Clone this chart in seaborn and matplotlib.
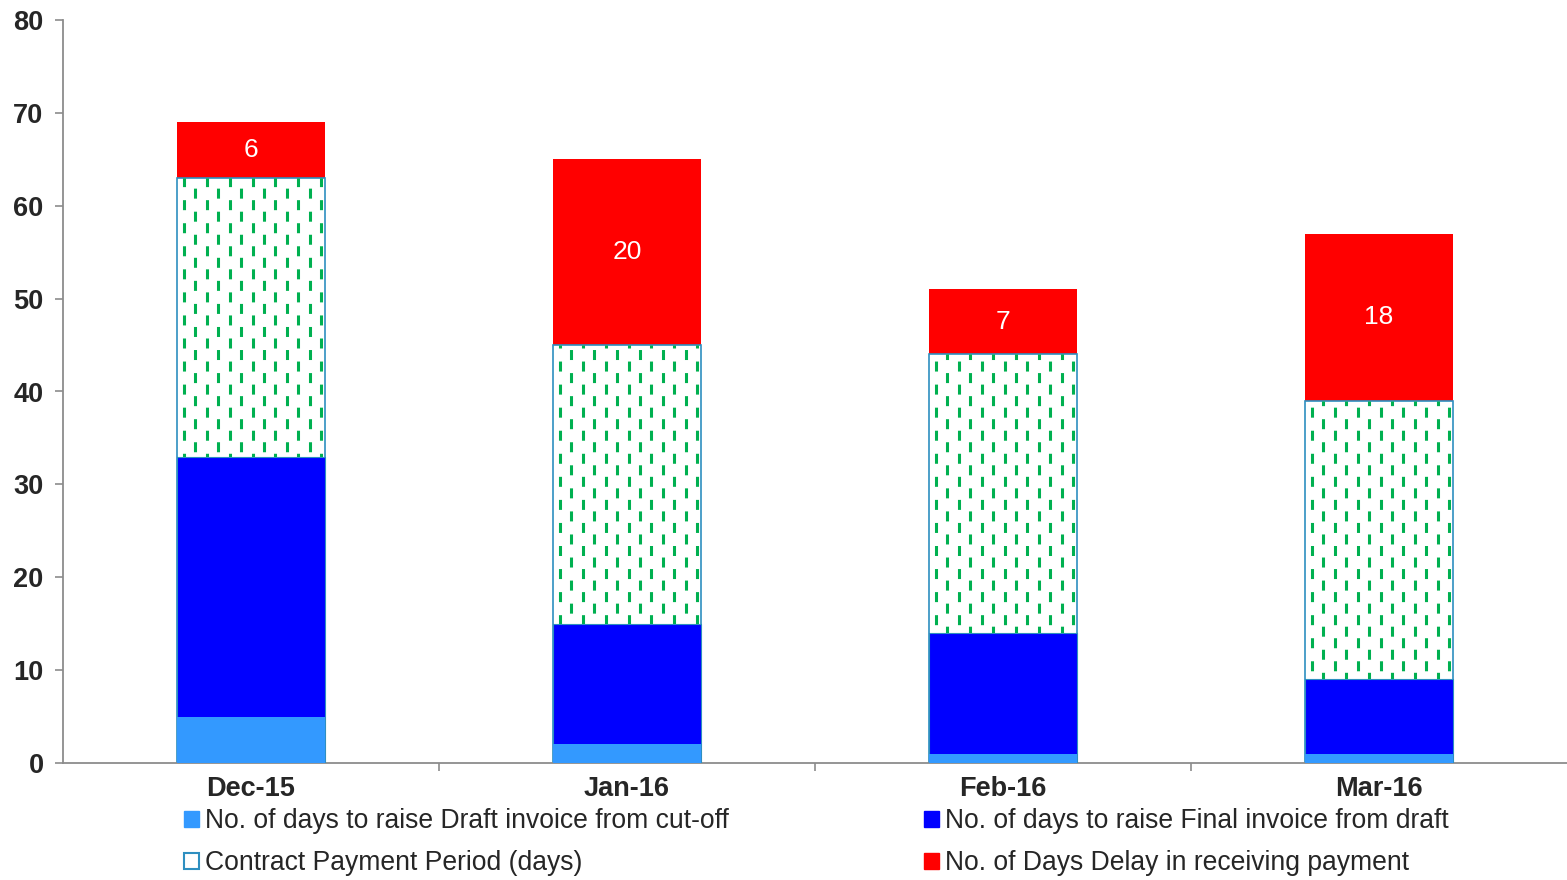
import matplotlib
matplotlib.use("Agg")
import matplotlib.pyplot as plt
from matplotlib.patches import Patch
import numpy as np
import pandas as pd
import seaborn as sns

months = ["Dec-15", "Jan-16", "Feb-16", "Mar-16"]
draft_days = [5, 2, 1, 1]
final_days = [28, 13, 13, 8]
contract_days = [30, 30, 30, 30]
delay_days = [6, 20, 7, 18]

labels = [
    "No. of days to raise Draft invoice from cut-off",
    "No. of days to raise Final invoice from draft",
    "Contract Payment Period (days)",
    "No. of Days Delay in receiving payment",
]
colors = ["#3399FF", "#0000FF", "#FFFFFF", "#FF0000"]

sns.set_style("white")
plt.rcParams["font.family"] = ["Liberation Sans", "DejaVu Sans"]
plt.rcParams["lines.scale_dashes"] = False

df = pd.DataFrame({"month": months, "draft": draft_days, "final": final_days,
                   "contract": contract_days, "delay": delay_days})
df["c1"] = df["draft"]
df["c2"] = df["c1"] + df["final"]
df["c3"] = df["c2"] + df["contract"]
df["c4"] = df["c3"] + df["delay"]

fig = plt.figure(figsize=(15.67, 8.8), dpi=100)
ax = fig.add_axes([63 / 1567, 117 / 880, 1 - 63 / 1567, 743 / 880])

bw = 148 / 376
# draw cumulative totals back to front
sns.barplot(data=df, x="month", y="c4", color=colors[3], width=bw,
            saturation=1, ax=ax, zorder=1, linewidth=0)
n = len(ax.patches)
sns.barplot(data=df, x="month", y="c3", color="white", width=bw,
            saturation=1, ax=ax, zorder=2, edgecolor="#2E8FC0", linewidth=1.2)
contract_patches = ax.patches[n:]
sns.barplot(data=df, x="month", y="c2", color=colors[1], width=bw,
            saturation=1, ax=ax, zorder=4, edgecolor="#2E8FC0", linewidth=0.8)
sns.barplot(data=df, x="month", y="c1", color=colors[0], width=bw,
            saturation=1, ax=ax, zorder=5, linewidth=0)

# green dashed vertical pattern inside contract segment
step = 11.45 / 376
for p in contract_patches:
    x0, w, top = p.get_x(), p.get_width(), p.get_height()
    xs = np.arange(x0 + step * 0.6, x0 + w, step)
    for k, xv in enumerate(xs):
        off = 0 if k % 2 == 0 else 8.3
        lc = ax.vlines(xv, 0, top, colors="#00B050", linewidth=2.2,
                       linestyles=[(off, (7.2, 9.4))], zorder=3)
        lc.set_clip_path(p)

# data labels on delay segment
for i, row in df.iterrows():
    ax.text(i, row["c3"] + row["delay"] / 2, str(row["delay"]), color="white",
            ha="center", va="center", fontsize=19, zorder=6)

ax.set_xlim(-0.5, 3.5)
ax.set_ylim(0, 80)
ax.set_yticks(range(0, 81, 10))
ax.set_xlabel("")
ax.set_ylabel("")
for s in ["top", "right"]:
    ax.spines[s].set_visible(False)
for s in ["left", "bottom"]:
    ax.spines[s].set_color("#8C8C8C")
    ax.spines[s].set_linewidth(1.3)
ax.tick_params(axis="y", direction="out", length=6, width=1.2, color="#8C8C8C",
               labelsize=19.5, pad=8, left=True)
ax.tick_params(axis="x", length=0, labelsize=19.5, pad=9)
ax.set_xticks([0.5, 1.5, 2.5], minor=True)
ax.tick_params(axis="x", which="minor", direction="out", length=6, width=1.2,
               color="#8C8C8C", bottom=True)
for t in ax.get_xticklabels() + ax.get_yticklabels():
    t.set_fontweight("bold")

handles = [Patch(facecolor=colors[0], edgecolor=colors[0]),
           Patch(facecolor="white", edgecolor="#2E8FC0", linewidth=1.5),
           Patch(facecolor=colors[1], edgecolor=colors[1]),
           Patch(facecolor=colors[3], edgecolor=colors[3])]
leg_labels = [labels[0], labels[2], labels[1], labels[3]]
kw = dict(frameon=False, fontsize=19.1, handlelength=0.55, handleheight=0.55,
          handletextpad=0.25, labelspacing=0.62, borderaxespad=0, borderpad=0)
fig.legend(handles[:2], leg_labels[:2], loc="upper left",
           bbox_to_anchor=(184 / 1567, 1 - 808 / 880), **kw)
fig.legend(handles[2:], leg_labels[2:], loc="upper left",
           bbox_to_anchor=(924 / 1567, 1 - 808 / 880), **kw)

fig.savefig("out.png", dpi=100)
